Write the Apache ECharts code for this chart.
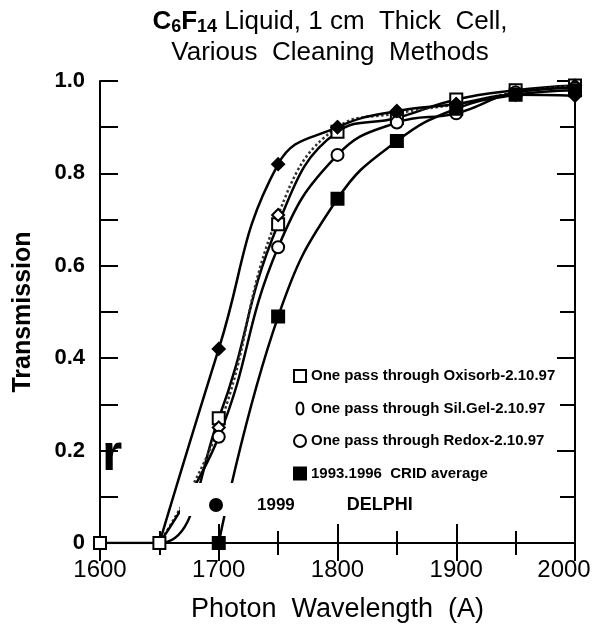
<!DOCTYPE html>
<html>
<head>
<meta charset="utf-8">
<script src="https://cdn.jsdelivr.net/npm/echarts@6/dist/echarts.min.js"></script>
<style>
html,body{margin:0;padding:0;background:#fff;}
#c{width:597px;height:626px;}
</style>
</head>
<body>
<div id="c"></div>
<script>
// ---- data ----
const wavelengths = [1600, 1650, 1700, 1750, 1800, 1850, 1900, 1950, 2000];
const oxisorb = [0, 0, 0.27, 0.69, 0.89, 0.92, 0.96, 0.98, 0.99];
const silgel  = [null, 0, 0.25, 0.71, 0.90, 0.93, 0.95, 0.975, 0.99];
const redox   = [null, 0, 0.23, 0.64, 0.84, 0.91, 0.93, 0.975, 0.985];
const crid    = [null, null, 0, 0.49, 0.745, 0.87, 0.94, 0.97, 0.98];
const delphi  = [null, 0, 0.42, 0.82, 0.90, 0.935, 0.95, 0.97, 0.968];
const xTicks = [1600, 1700, 1800, 1900, 2000];
const yTicks = [0, 0.2, 0.4, 0.6, 0.8, 1.0];

const names = {
  ox: 'One pass through Oxisorb-2.10.97',
  sg: 'One pass through Sil.Gel-2.10.97',
  rd: 'One pass through Redox-2.10.97',
  cr: '1993.1996  CRID average',
  de: '1999 DELPHI'
};

// points before 1700 for non-Oxisorb series are curve anchors without a marker
function toData(arr, markAll) {
  const out = [];
  arr.forEach((v, i) => {
    if (v === null) return;
    const item = { value: [wavelengths[i], v] };
    if (!markAll && wavelengths[i] < 1700) item.symbol = 'none';
    out.push(item);
  });
  return out;
}

const FONT = '"Liberation Sans", Arial, Helvetica, sans-serif';
const chart = echarts.init(document.getElementById('c'), null, { renderer: 'canvas' });

function lineSeries(name, arr, symbol, fill, markAll, lineType, lineColor) {
  return {
    name: name,
    type: 'line',
    smooth: 0.45,
    data: toData(arr, markAll),
    symbol: symbol,
    symbolSize: 12,
    showAllSymbol: true,
    itemStyle: { color: fill, borderColor: '#000', borderWidth: 2 },
    lineStyle: { color: lineColor || '#000', width: 2.5, type: lineType || 'solid' },
    z: 3
  };
}

const option = {
  backgroundColor: '#fff',
  animation: false,
  textStyle: { fontFamily: FONT },
  title: {
    left: 330,
    top: 6,
    textAlign: 'center',
    padding: 0,
    text: '{b|C}{s|6}{b|F}{s|14}{t| Liquid, 1 cm  Thick  Cell,}\n{t|Various  Cleaning  Methods}',
    textStyle: {
      fontWeight: 'normal',
      rich: {
        b: { fontSize: 26, fontWeight: 'bold', color: '#000', fontFamily: FONT, lineHeight: 31 },
        s: { fontSize: 18, fontWeight: 'bold', color: '#000', fontFamily: FONT, lineHeight: 31, padding: [11, 0, 0, 0] },
        t: { fontSize: 26, fontWeight: 'normal', color: '#000', fontFamily: FONT, lineHeight: 31 }
      }
    }
  },
  grid: { left: 100, right: 22, top: 81, bottom: 83, containLabel: false, outerBoundsMode: 'none' },
  xAxis: [{
    type: 'value', min: 1600, max: 2000, interval: 100,
    name: 'Photon  Wavelength  (A)', nameLocation: 'middle', nameGap: 53,
    nameTextStyle: { fontSize: 27, color: '#000', fontFamily: FONT },
    axisLine: { lineStyle: { color: '#000', width: 2 } },
    axisTick: { inside: true, length: 19, lineStyle: { color: '#000', width: 2 } },
    minorTick: { show: true, splitNumber: 2, length: 12, lineStyle: { color: '#000', width: 2 } },
    axisLabel: { fontSize: 24, color: '#000', margin: 15, fontFamily: FONT, hideOverlap: false,
      formatter: v => {
        if (!xTicks.includes(v)) return '';
        return v === 2000 ? '{last|' + v + '}' : String(v);
      },
      rich: { last: { fontSize: 24, color: '#000', fontFamily: FONT, padding: [0, 22, 0, 0] } } },
    splitLine: { show: false }
  }, {
    type: 'value', min: 1600, max: 2000, interval: 100, position: 'top',
    axisLine: { lineStyle: { color: '#000', width: 2 } },
    axisTick: { inside: true, length: 18, lineStyle: { color: '#000', width: 2 } },
    minorTick: { show: true, splitNumber: 2, length: 12, lineStyle: { color: '#000', width: 2 } },
    axisLabel: { show: false },
    splitLine: { show: false }
  }],
  yAxis: [{
    type: 'value', min: 0, max: 1, interval: 0.2,
    name: 'Transmission', nameLocation: 'middle', nameGap: 64,
    nameTextStyle: { fontSize: 25, fontWeight: 'bold', color: '#000', fontFamily: FONT },
    axisLine: { lineStyle: { color: '#000', width: 2 } },
    axisTick: { inside: true, length: 18, lineStyle: { color: '#000', width: 2 } },
    minorTick: { show: true, splitNumber: 2, length: 18, lineStyle: { color: '#000', width: 2 } },
    axisLabel: { fontSize: 22, fontWeight: 'bold', color: '#000', margin: 15, fontFamily: FONT,
      formatter: v => {
        const t = yTicks.find(k => Math.abs(k - v) < 1e-6);
        if (t === undefined) return '';
        return t === 0 ? '0' : t.toFixed(1);
      } },
    splitLine: { show: false }
  }, {
    type: 'value', min: 0, max: 1, interval: 0.2, position: 'right',
    axisLine: { lineStyle: { color: '#000', width: 2 } },
    axisTick: { inside: true, length: 18, lineStyle: { color: '#000', width: 2 } },
    minorTick: { show: true, splitNumber: 2, length: 15, lineStyle: { color: '#000', width: 2 } },
    axisLabel: { show: false },
    splitLine: { show: false }
  }],
  legend: [{
    orient: 'vertical',
    left: 293, top: 367,
    padding: 0,
    itemWidth: 12, itemHeight: 12, itemGap: 14.5,
    symbolKeepAspect: true,
    textStyle: { fontSize: 15, fontWeight: 'bold', color: '#000', fontFamily: FONT, lineHeight: 18 },
    data: [
      { name: names.ox, icon: 'rect' },
      { name: names.sg, icon: 'path://M4,0 C7,0 8,3 8,7 C8,11 7,14 4,14 C1,14 0,11 0,7 C0,3 1,0 4,0 Z' },
      { name: names.rd, icon: 'circle' },
      { name: names.cr, icon: 'rect' }
    ],
    selectedMode: false
  }, {
    orient: 'horizontal',
    left: 209, top: 494,
    padding: [2, 4, 2, 0],
    z: 60,
    itemWidth: 12, itemHeight: 12,
    backgroundColor: '#fff',
    textStyle: { fontSize: 18, fontWeight: 'bold', color: '#000', fontFamily: FONT,
      rich: {
        g: { width: 30 },
        h: { width: 52 },
        w: { fontSize: 17, fontWeight: 'bold', color: '#000', fontFamily: FONT },
        d: { fontSize: 18, fontWeight: 'bold', color: '#000', fontFamily: FONT }
      } },
    formatter: () => '{g| }{w|1999}{h| }{d|DELPHI}',
    data: [{ name: names.de, icon: 'circle', itemStyle: { color: '#000' } }],
    selectedMode: false
  }],
  graphic: [
    { type: 'rect', left: 180, top: 483, shape: { width: 66, height: 33 }, style: { fill: '#fff' }, z: 50 },
    { type: 'text', left: 102, top: 430, style: { text: 'r', font: 'bold 52px ' + FONT, fill: '#000' }, z: 50 }
  ],
  series: [
    lineSeries(names.ox, oxisorb, 'rect', '#fff', true),
    lineSeries(names.sg, silgel, 'diamond', '#fff', false, 'dotted', '#333'),
    lineSeries(names.rd, redox, 'circle', '#fff', false),
    lineSeries(names.cr, crid, 'rect', '#000', true),
    lineSeries(names.de, delphi, 'diamond', '#000', false)
  ]
};
chart.setOption(option);
</script>
</body>
</html>
